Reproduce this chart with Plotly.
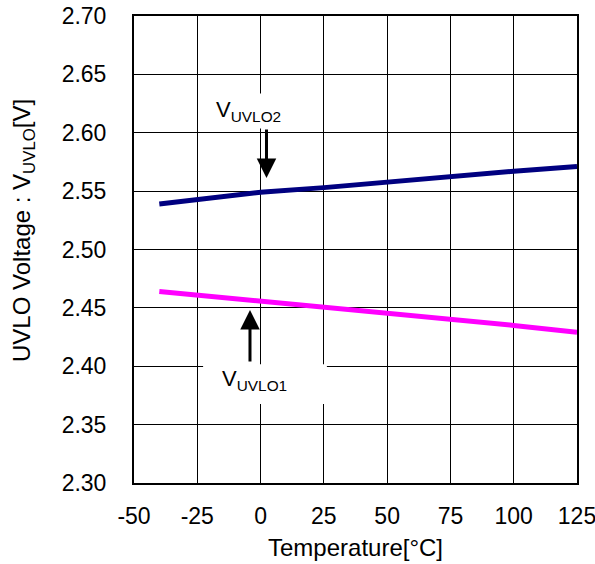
import plotly.graph_objects as go

temps = [-40, -25, 0, 25, 50, 75, 100, 125]
vuvlo2 = [2.539, 2.543, 2.549, 2.553, 2.558, 2.562, 2.567, 2.571]
vuvlo1 = [2.464, 2.461, 2.456, 2.451, 2.445, 2.440, 2.435, 2.429]
x_ticks = [-50, -25, 0, 25, 50, 75, 100, 125]
y_ticks = [2.30, 2.35, 2.40, 2.45, 2.50, 2.55, 2.60, 2.65, 2.70]

font = "Liberation Sans, Arial, sans-serif"

fig = go.Figure()
fig.add_trace(go.Scatter(x=temps, y=vuvlo2, mode="lines",
                         line=dict(color="#000080", width=5), showlegend=False))
fig.add_trace(go.Scatter(x=temps, y=vuvlo1, mode="lines",
                         line=dict(color="#ff00ff", width=5), showlegend=False))

fig.update_layout(
    width=595, height=564,
    margin=dict(l=134, r=18, t=16, b=81),
    paper_bgcolor="white", plot_bgcolor="white",
    font=dict(family=font, size=23, color="black"),
    showlegend=False,
)
fig.update_xaxes(
    range=[-50, 125], tickvals=x_ticks, ticktext=[str(v) for v in x_ticks],
    showgrid=True, gridcolor="black", gridwidth=1,
    showline=True, linecolor="black", linewidth=2, mirror=True,
    ticks="outside", ticklen=11, tickcolor="rgba(0,0,0,0)",
    ticklabeloverflow="allow",
    zeroline=False, automargin=False,
    title=dict(text="Temperature[°C]", font=dict(size=24), standoff=12),
)
fig.update_yaxes(
    range=[2.30, 2.70], tickvals=y_ticks, ticktext=[f"{v:.2f}" for v in y_ticks],
    showgrid=True, gridcolor="black", gridwidth=1,
    showline=True, linecolor="black", linewidth=2, mirror=True,
    ticks="outside", ticklen=21, tickcolor="rgba(0,0,0,0)",
    ticklabeloverflow="allow",
    zeroline=False, automargin=False,
)

# y-axis title
fig.add_annotation(xref="paper", yref="paper", x=0, y=(483 - 231) / 467,
                   xshift=-111, xanchor="center", yanchor="middle",
                   text="UVLO Voltage : V<sub>UVLO</sub>[V]", textangle=-90,
                   showarrow=False, font=dict(size=24))

# white box behind the lower label (covers grid lines)
fig.add_shape(type="rect", xref="x", yref="y", x0=-22.7, x1=26.2, y0=2.3677, y1=2.4018,
              fillcolor="white", line=dict(width=0), layer="between")

# labels
fig.add_annotation(x=-19.0, y=2.6186, xref="x", yref="y", xanchor="left",
                   text="V<sub>UVLO2</sub>", showarrow=False,
                   font=dict(size=22), bgcolor="white", borderpad=3)
fig.add_annotation(x=-16.0, y=2.3882, xref="x", yref="y", xanchor="left",
                   text="V<sub>UVLO1</sub>", showarrow=False,
                   font=dict(size=22))
# arrows
fig.add_annotation(x=2.34, y=2.5612, ax=2.34, ay=2.6041, xref="x", yref="y",
                   axref="x", ayref="y", text="", showarrow=True,
                   arrowhead=2, arrowsize=1.3, arrowwidth=3, arrowcolor="black")
fig.add_annotation(x=-4.18, y=2.4482, ax=-4.18, ay=2.4028, xref="x", yref="y",
                   axref="x", ayref="y", text="", showarrow=True,
                   arrowhead=2, arrowsize=1.3, arrowwidth=3, arrowcolor="black")

fig.write_html("out.html")
